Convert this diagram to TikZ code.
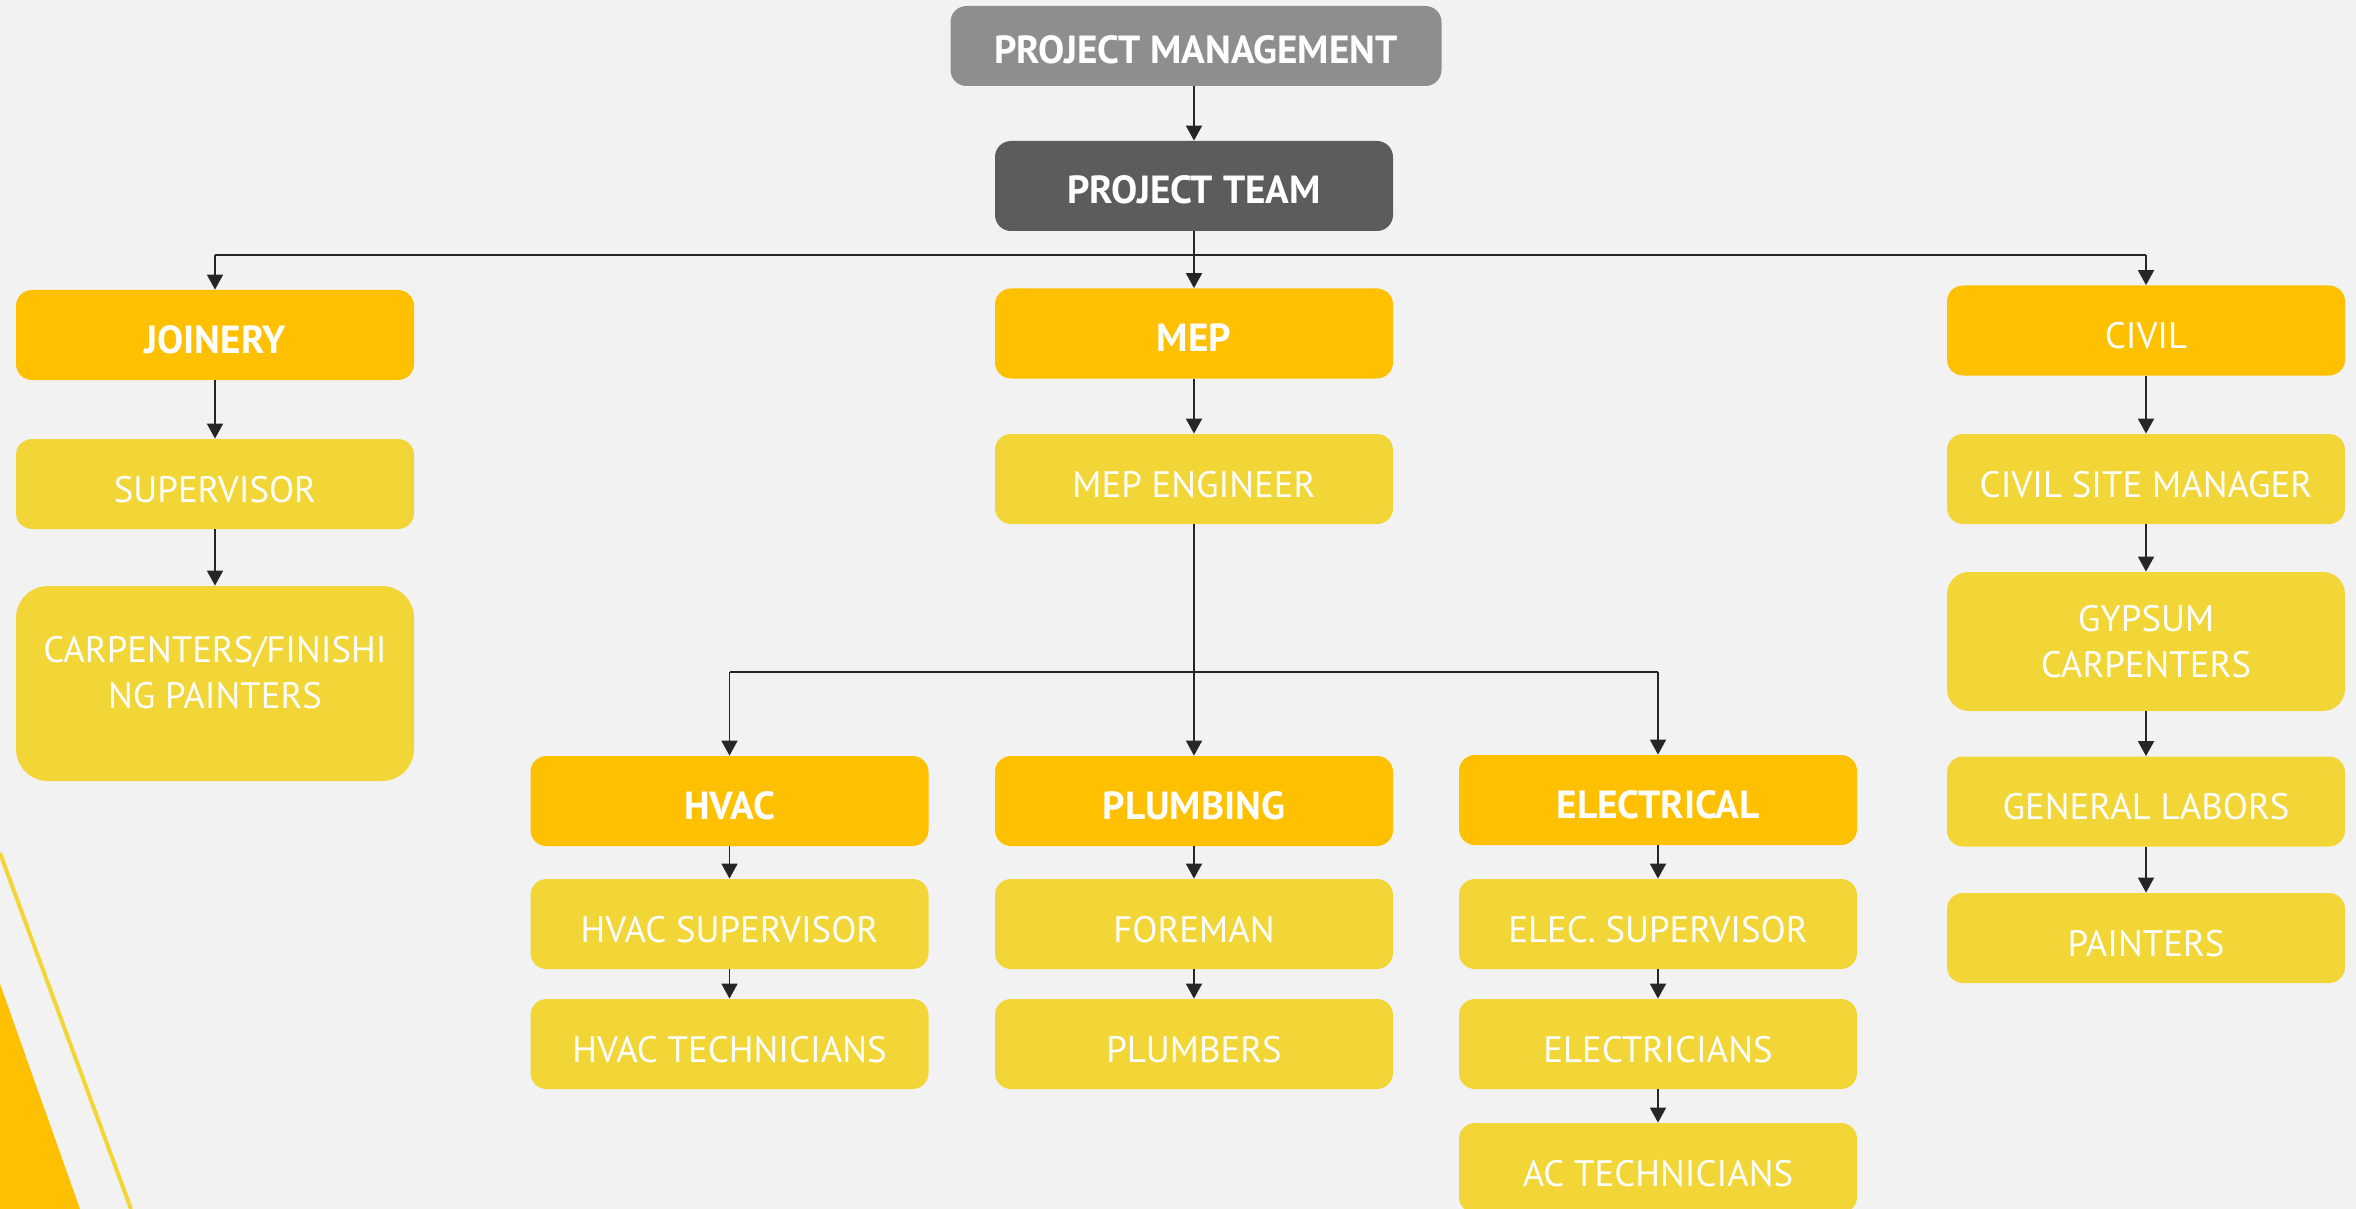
\documentclass[tikz,border=0pt]{standalone}
\usepackage{fontspec}
\setmainfont{PT Sans}
\usetikzlibrary{arrows.meta}
\definecolor{bgc}{HTML}{F2F2F2}
\definecolor{hdr}{HTML}{FFC000}
\definecolor{lyel}{HTML}{F2D637}
\definecolor{pmgray}{HTML}{8E8E8E}
\definecolor{ptgray}{HTML}{5C5C5C}
\definecolor{linec}{HTML}{262626}
\newcommand{\fsz}{\fontsize{18.4}{23}\selectfont}
\newcommand{\bsz}{\fontsize{19.6}{23}\selectfont\bfseries}
\tikzset{
  boxbase/.style={rounded corners=8pt, minimum width=199pt, minimum height=45pt, inner sep=0pt, text=white, align=center, font=\fsz},
  single/.style={text height=18pt, text depth=0pt},
  headbox/.style={boxbase, single, fill=hdr, font=\bsz},
  subbox/.style={boxbase, single, fill=lyel},
  arr/.style={draw=linec, line width=0.9pt, -{Triangle[width=8pt,length=7.5pt]}},
  bus/.style={draw=linec, line width=0.7pt}
}
\begin{document}
\begin{tikzpicture}[x=0.5pt,y=-0.5pt]
\fill[bgc] (0,0) rectangle (2356,1209);
\useasboundingbox (0,0) rectangle (2356,1209);
% decoration
\fill[hdr] (0,984) -- (80,1209) -- (0,1209) -- cycle;
\draw[lyel, line width=2pt] (0,853) -- (131,1209);
% nodes
\node[boxbase, single, fill=pmgray, minimum width=245.5pt, minimum height=40pt, font=\bsz] (pm) at (1196,46) {PROJECT MANAGEMENT};
\node[boxbase, single, fill=ptgray, font=\bsz] (pt) at (1194,186) {PROJECT TEAM};
\node[headbox] (joinery) at (215,335) {JOINERY};
\node[headbox] (mep) at (1194,333.5) {MEP};
\node[boxbase, single, fill=hdr] (civil) at (2146,330.5) {CIVIL};
\node[subbox] (sup) at (215,484) {SUPERVISOR};
\node[boxbase, fill=lyel, minimum height=97.5pt, rounded corners=16pt] (carp) at (215,683.5) {};
\node[text=white, font=\fsz, align=center, inner sep=0pt] (carptext) at (215,673) {CARPENTERS/FINISHI\\NG PAINTERS};
\node[subbox] (mepeng) at (1194,479) {MEP ENGINEER};
\node[subbox] (csm) at (2146,479) {CIVIL SITE MANAGER};
\node[boxbase, fill=lyel, minimum height=69.5pt, rounded corners=11pt] (gyp) at (2146,641.5) {GYPSUM\\CARPENTERS};
\node[subbox] (gen) at (2146,801.5) {GENERAL LABORS};
\node[subbox] (paint) at (2146,938) {PAINTERS};
\node[headbox] (hvac) at (729.5,801) {HVAC};
\node[headbox] (plumb) at (1194,801) {PLUMBING};
\node[headbox] (elec) at (1658,800) {ELECTRICAL};
\node[subbox] (hsup) at (729.5,924) {HVAC SUPERVISOR};
\node[subbox] (htech) at (729.5,1044) {HVAC TECHNICIANS};
\node[subbox] (fore) at (1194,924) {FOREMAN};
\node[subbox] (plumbers) at (1194,1044) {PLUMBERS};
\node[subbox] (esup) at (1658,924) {ELEC. SUPERVISOR};
\node[subbox] (elecs) at (1658,1044) {ELECTRICIANS};
\node[subbox] (ac) at (1658,1168) {AC TECHNICIANS};
% connectors
\draw[arr] (pm.south -| pt.north) -- (pt.north);
\coordinate (busA) at (1194,255);
\draw[arr] (pt.south) -- (mep.north);
\draw[bus] (joinery.north |- busA) -- (civil.north |- busA);
\draw[arr] (busA -| joinery.north) -- (joinery.north);
\draw[arr] (busA -| civil.north) -- (civil.north);
\draw[arr] (joinery) -- (sup);
\draw[arr] (sup) -- (carp);
\draw[arr] (mep) -- (mepeng);
\draw[arr] (civil) -- (csm);
\draw[arr] (csm) -- (gyp);
\draw[arr] (gyp) -- (gen);
\draw[arr] (gen) -- (paint);
\coordinate (busB) at (1194,672);
\draw[arr] (mepeng) -- (plumb);
\draw[bus] (hvac.north |- busB) -- (elec.north |- busB);
\draw[arr] (busB -| hvac.north) -- (hvac.north);
\draw[arr] (busB -| elec.north) -- (elec.north);
\draw[arr] (hvac) -- (hsup);
\draw[arr] (hsup) -- (htech);
\draw[arr] (plumb) -- (fore);
\draw[arr] (fore) -- (plumbers);
\draw[arr] (elec) -- (esup);
\draw[arr] (esup) -- (elecs);
\draw[arr] (elecs) -- (ac);
\end{tikzpicture}
\end{document}
